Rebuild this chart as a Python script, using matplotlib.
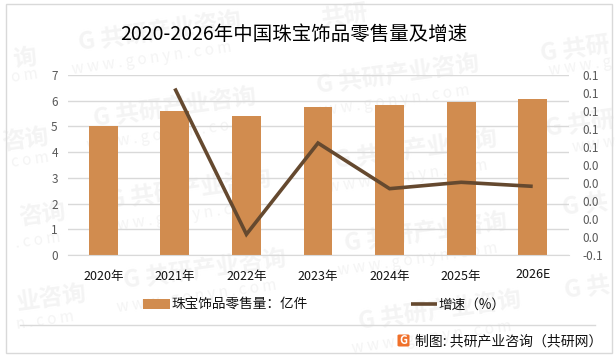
import matplotlib
matplotlib.use("Agg")
import matplotlib.pyplot as plt
from matplotlib.patches import Rectangle, FancyBboxPatch
from matplotlib.lines import Line2D

plt.rcParams['font.family'] = ['Noto Sans CJK SC', 'DejaVu Sans']

categories = ['2020年', '2021年', '2022年', '2023年', '2024年', '2025年', '2026E']
sales = [5.0, 5.6, 5.41, 5.76, 5.83, 5.95, 6.07]
growth_years = categories[1:]
growth = [0.125, -0.037, 0.0644, 0.0137, 0.0208, 0.0163]
left_ticks = [0, 1, 2, 3, 4, 5, 6, 7]
right_ticks = [-0.06, -0.04, -0.02, 0.0, 0.02, 0.04, 0.06, 0.08, 0.10, 0.12, 0.14]
right_labels = ['-0.1', '0.0', '0.0', '0.0', '0.0', '0.0', '0.1', '0.1', '0.1', '0.1', '0.1']
title = '2020-2026年中国珠宝饰品零售量及增速'
bar_name = '珠宝饰品零售量：亿件'
line_name = '增速（%）'
source = '制图: 共研产业咨询（共研网）'

W, H = 616, 357
BAR = '#D18C4F'
LINE = '#65492F'
GRID = '#D9D9D9'
MARK = '#F4F4F4'

fig = plt.figure(figsize=(W / 100, H / 100), dpi=100, facecolor='white')

def fx(p): return p / W
def fy(p): return 1 - p / H

# faint watermarks behind the chart (edge ones show only their visible part)
for cx, cy, txt in [(160, 32, 'G 共研产业咨询'), (175, 108, 'G 共研产业咨询'), (190, 190, 'G 共研产业咨询'),
                    (205, 270, 'G 共研产业咨询'), (398, 75, 'G 共研产业咨询'), (416, 150, 'G 共研产业咨询'),
                    (426, 233, 'G 共研产业咨询'), (440, 311, 'G 共研产业咨询'),
                    (345, 16, '共研'), (575, 50, 'G 共研'), (580, 125, 'G 共研'), (585, 205, 'G 共'), (587, 288, 'G 共'),
                    (25, 58, '询'), (25, 140, '咨询'), (42, 215, '咨询'), (52, 298, '业咨询')]:
    fig.text(fx(cx), fy(cy), txt, fontsize=17, fontweight='bold', color=MARK,
             ha='center', va='center', rotation=8, zorder=-5)
for cx, cy, txt in [(152, 58, 'w w w . g o n y n . c o m'), (167, 134, 'w w w . g o n y n . c o m'),
                    (182, 216, 'w w w . g o n y n . c o m'), (197, 296, 'w w w . g o n y n . c o m'),
                    (390, 101, 'w w w . g o n y n . c o m'), (408, 176, 'w w w . g o n y n . c o m'),
                    (418, 259, 'w w w . g o n y n . c o m'), (432, 337, 'w w w . g o n y n . c o m'),
                    (580, 66, 'w w w . g'), (594, 145, 'w w w'), (25, 76, 'o m'), (30, 160, 'c o m'),
                    (38, 240, '. c o m'), (45, 320, 'n . c o m')]:
    fig.text(fx(cx), fy(cy), txt, fontsize=11, color=MARK,
             ha='center', va='center', rotation=8, zorder=-5)

# outer frame and footer rule
fig.add_artist(Rectangle((fx(5.5), fy(352.5)), fx(606), 349 / H, fill=False, edgecolor=GRID, linewidth=1.0,
                         transform=fig.transFigure))
fig.add_artist(Line2D([fx(20), fx(595)], [fy(324.5), fy(324.5)], color=GRID, linewidth=1.0))

ax = fig.add_axes([fx(67.5), fy(255), fx(501), 180 / H])
ax.patch.set_alpha(0)
x = list(range(len(categories)))
bars = ax.bar(x, sales, width=0.405, color=BAR, zorder=2, label=bar_name)
ax.set_xlim(-0.5, 6.5)
ax.set_ylim(0, 7)
ax.set_yticks(left_ticks)
ax.grid(axis='y', color=GRID, linewidth=1.0, zorder=0)
ax.set_axisbelow(True)
for s in ax.spines.values():
    s.set_visible(False)
ax.spines['bottom'].set_visible(True)
ax.spines['bottom'].set_color(GRID)
ax.tick_params(axis='y', length=0, labelsize=8.5, labelcolor='#595959', pad=7)
ax.tick_params(axis='x', length=0, labelsize=9, labelcolor='#111111', pad=11)
ax.set_xticks(x)
ax.set_xticklabels(categories)
ax.get_xticklabels()[-1].set_y(0.015)

ax2 = ax.twinx()
ax2.patch.set_alpha(0)
ax2.set_ylim(-0.06, 0.14)
ax2.set_yticks(right_ticks)
ax2.set_yticklabels(right_labels)
for s in ax2.spines.values():
    s.set_visible(False)
ax2.tick_params(axis='y', length=0, labelsize=8.5, labelcolor='#595959', pad=10)
line, = ax2.plot([categories.index(c) for c in growth_years], growth, color=LINE, linewidth=2.6,
                 solid_joinstyle='miter', solid_capstyle='butt', zorder=5, label=line_name)

fig.text(fx(294), fy(35), title, fontsize=14, color='#000000', ha='center', va='center')

fig.legend([bars, line], [bar_name, line_name], loc='center left',
           bbox_to_anchor=(fx(131), fy(305)), ncol=2, frameon=False, fontsize=9.8,
           handlelength=1.95, handleheight=0.8, handletextpad=0.1, columnspacing=7.6,
           labelcolor='#111111')

# source with small logo
fig.add_artist(FancyBboxPatch((fx(397.5), fy(346.5)), fx(12), 12 / H, boxstyle='round,pad=0,rounding_size=0.003',
                              facecolor='#F0702A', edgecolor='none', transform=fig.transFigure))
fig.text(fx(403.5), fy(340.5), 'G', fontsize=8, fontweight='bold', color='white', ha='center', va='center')
fig.text(fx(415), fy(341), source, fontsize=10, color='#111111', ha='left', va='center')

fig.savefig('out.png', dpi=100)
